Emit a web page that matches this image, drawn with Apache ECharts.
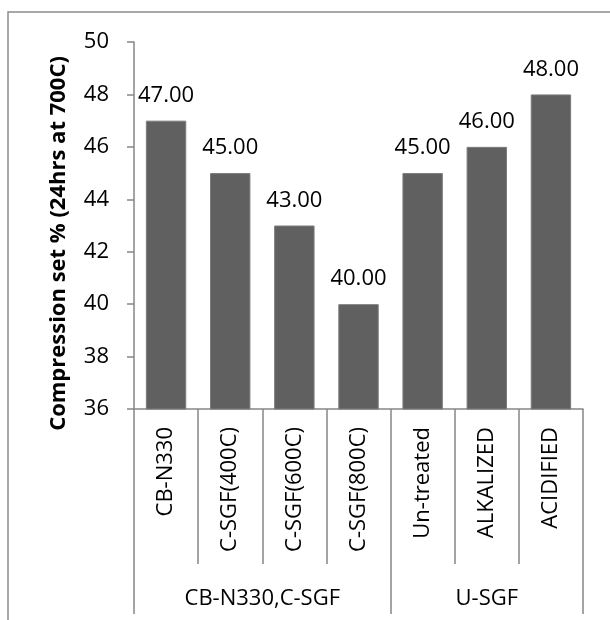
<!DOCTYPE html>
<html>
<head>
<meta charset="utf-8">
<script src="https://cdn.jsdelivr.net/npm/echarts@6/dist/echarts.min.js"></script>
<style>
  html, body { margin: 0; padding: 0; background: #fff; }
  #chart { width: 610px; height: 620px; }
</style>
</head>
<body>
<div id="chart"></div>
<script>
// Sample names, grouped under the two filler families
const categories = ['CB-N330', 'C-SGF(400C)', 'C-SGF(600C)', 'C-SGF(800C)', 'Un-treated', 'ALKALIZED', 'ACIDIFIED'];
const groupNames = ['CB-N330,C-SGF', 'U-SGF'];
const groupSizes = [4, 3];
// Compression set (%) after 24 hrs at 70°C
const compressionSet = [47.00, 45.00, 43.00, 40.00, 45.00, 46.00, 48.00];
const yTicks = [36, 38, 40, 42, 44, 46, 48, 50];

const FONT = '"Open Sans", "Liberation Sans", sans-serif';
const AXIS_GREY = '#868686';

// Group axis: half-category points (2 per category + 1), labels at group centres,
// ticks at group boundaries.
const halfPoints = [];
const groupBoundaryIdx = [0];
const groupLabelAt = {};
let pos = 0;
groupSizes.forEach((n, g) => {
  groupLabelAt[pos + n] = groupNames[g];   // centre of group in half-units
  pos += 2 * n;
  groupBoundaryIdx.push(pos);
});
for (let i = 0; i <= pos; i++) halfPoints.push(groupLabelAt[i] || '');

const chart = echarts.init(document.getElementById('chart'), null, { renderer: 'canvas' });

chart.setOption({
  animation: false,
  backgroundColor: '#fff',
  textStyle: { fontFamily: FONT },
  graphic: [{
    type: 'rect',
    shape: { x: 8, y: 12, width: 700, height: 700 },
    style: { fill: 'none', stroke: '#8c8c8c', lineWidth: 1.5 },
    silent: true,
    z: -1
  }],
  grid: { left: 134, right: 27, top: 42, bottom: 211, containLabel: false },
  xAxis: [{
    type: 'category',
    data: categories,
    position: 'bottom',
    axisLine: { show: true, lineStyle: { color: AXIS_GREY, width: 1.5 } },
    axisTick: { show: true, inside: false, length: 155, alignWithLabel: false,
                lineStyle: { color: AXIS_GREY, width: 1.5 } },
    axisLabel: { interval: 0, rotate: 90, margin: 18, fontSize: 22, color: '#000', fontFamily: FONT },
    splitLine: { show: false }
  }, {
    type: 'category',
    data: halfPoints,
    position: 'bottom',
    offset: 0,
    boundaryGap: false,
    axisLine: { show: false },
    axisTick: { show: true, inside: false, length: 205,
                interval: (idx) => groupBoundaryIdx.indexOf(idx) !== -1,
                lineStyle: { color: AXIS_GREY, width: 1.5 } },
    axisLabel: { interval: 0, margin: 179, fontSize: 22, color: '#000', fontFamily: FONT },
    splitLine: { show: false }
  }],
  yAxis: {
    type: 'value',
    min: yTicks[0],
    max: yTicks[yTicks.length - 1],
    interval: 2,
    name: 'Compression set % (24hrs at 700C)',
    nameLocation: 'middle',
    nameRotate: 90,
    nameGap: 64,
    nameTextStyle: { fontSize: 22, fontWeight: 'bold', color: '#000', fontFamily: FONT,
                     padding: [0, 36, 0, 0] },
    axisLine: { show: true, lineStyle: { color: AXIS_GREY, width: 1.5 } },
    axisTick: { show: true, inside: false, length: 7, lineStyle: { color: AXIS_GREY, width: 1.5 } },
    axisLabel: { margin: 25, fontSize: 22, color: '#000', fontFamily: FONT },
    splitLine: { show: false }
  },
  series: [{
    type: 'bar',
    xAxisIndex: 0,
    data: compressionSet,
    barCategoryGap: '37%',
    itemStyle: { color: '#606060', borderColor: '#7c7c7c', borderWidth: 1 },
    label: {
      show: true,
      position: 'top',
      distance: 14,
      fontSize: 22,
      color: '#000',
      fontFamily: FONT,
      formatter: (p) => p.value.toFixed(2)
    }
  }]
});
</script>
</body>
</html>
